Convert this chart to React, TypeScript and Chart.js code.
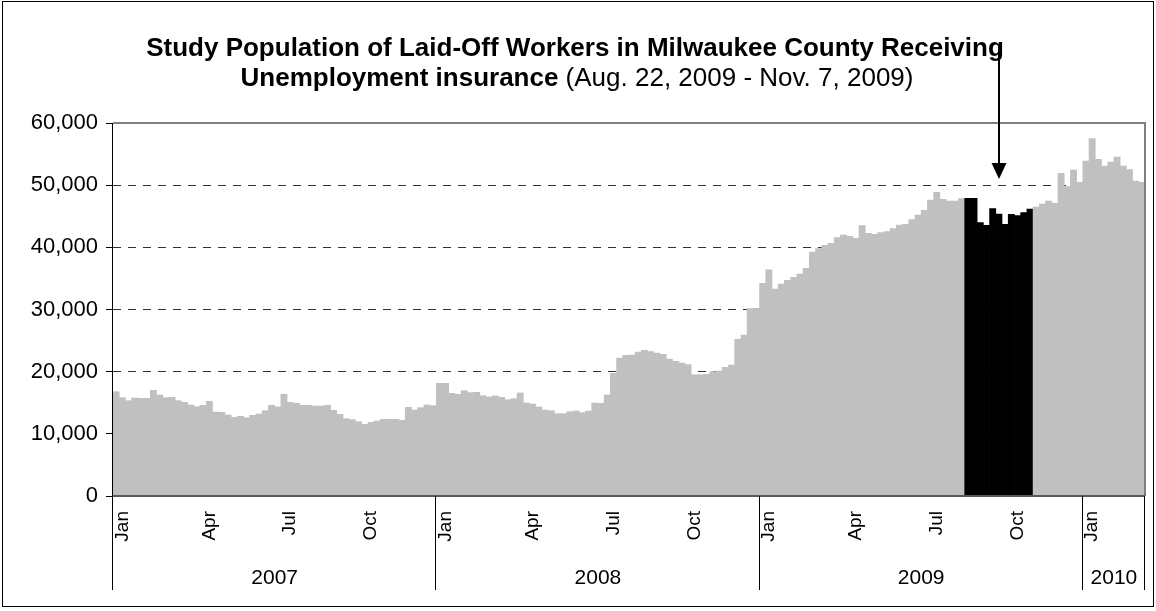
import { useEffect, useRef } from 'react';
import { Chart, registerables } from 'chart.js';

Chart.register(...registerables);

const FONT = '"Liberation Sans", Arial, Helvetica, sans-serif';

const yearLabels = ['2007', '2008', '2009', '2010'];

const values2007 = [
  16780, 15810, 15330, 15765, 15710, 15710, 17000, 16250, 15810, 15870,
  15330, 15070, 14640, 14370, 14590, 15230, 13510, 13460, 13030, 12660,
  12820, 12600, 12980, 13190, 13720, 14590, 14320, 16360, 15070, 14910,
  14590, 14590, 14480, 14480, 14590, 13780, 13140, 12440, 12280, 11950,
  11530, 11850, 12060, 12330, 12330, 12330, 12170, 14260, 13830, 14210,
  14640, 14530,
];

const values2008 = [
  18130, 18130, 16520, 16360, 16940, 16620, 16680, 16140, 15930, 16090,
  15870, 15490, 15650, 16570, 14960, 14800, 14320, 13830, 13720, 13240,
  13240, 13560, 13670, 13400, 13670, 14960, 14910, 16250, 19740, 22200,
  22630, 22680, 23160, 23430, 23220, 23000, 22790, 22040, 21660, 21390,
  21120, 19510, 19510, 19570, 20000, 20110, 20700, 21070, 25200, 25900,
  30130, 30190,
];

const values2009 = [
  34210, 36400, 33300, 34100, 34700, 35180, 35680, 36630, 39250, 39790,
  40320, 40640, 41550, 41980, 41770, 41450, 43480, 42250, 42090, 42360,
  42520, 43000, 43590, 43700, 44450, 45200, 45950, 47610, 48850, 47720,
  47450, 47450, 47830, 47880, 47880, 43970, 43540, 46220, 45360, 43700,
  45310, 45090, 45580, 46170, 46490, 46970, 47450, 47080, 51910, 49760,
  52440, 50460,
];

const values2010 = [53890, 57480, 54160, 53080, 53730, 54530, 53080, 52490, 50670, 50460];

const valuesByYear = [values2007, values2008, values2009, values2010];

// study period (Aug. 22 - Nov. 7, 2009), as 0-based week positions in the full series
const highlightFirst = 137;
const highlightLast = 147;

const monthNames = ['Jan', 'Apr', 'Jul', 'Oct'];
const monthWeekInYear = [1, 15, 28, 41];

const yTickValues = [0, 10000, 20000, 30000, 40000, 50000, 60000];

const titleLine1 = 'Study Population of Laid-Off Workers in Milwaukee County Receiving';
const titleLine2Bold = 'Unemployment insurance';
const titleLine2Normal = ' (Aug. 22, 2009 - Nov. 7, 2009)';

const arrowWeek = 142;
const arrowTipValue = 51000;

const weekLabels: string[] = [];
const weekYear: number[] = [];
const weekInYear: number[] = [];
const seriesValues: number[] = [];
valuesByYear.forEach((arr, yi) => {
  arr.forEach((v, wi) => {
    weekLabels.push(`${yearLabels[yi]} week ${wi + 1}`);
    weekYear.push(yi);
    weekInYear.push(wi);
    seriesValues.push(v);
  });
});

const barColors = seriesValues.map((_, i) =>
  i >= highlightFirst && i <= highlightLast ? '#000000' : '#C0C0C0'
);

const TITLE_SIZE = 26;

const decorPlugin = {
  id: 'decor',
  afterDraw(chart: any) {
    const { ctx, chartArea: a, scales } = chart;
    const xs = scales.x;
    const ys = scales.y;
    const half = (xs.getPixelForValue(1) - xs.getPixelForValue(0)) / 2;
    ctx.save();

    // plot frame (top / right)
    ctx.strokeStyle = '#808080';
    ctx.lineWidth = 2;
    ctx.beginPath();
    ctx.moveTo(a.left, a.top);
    ctx.lineTo(a.right, a.top);
    ctx.lineTo(a.right, a.bottom);
    ctx.stroke();

    // x axis line
    ctx.strokeStyle = '#5a5a5a';
    ctx.lineWidth = 2;
    ctx.beginPath();
    ctx.moveTo(a.left, a.bottom);
    ctx.lineTo(a.right, a.bottom);
    ctx.stroke();

    // y axis line
    ctx.strokeStyle = '#000';
    ctx.lineWidth = 1;
    ctx.beginPath();
    ctx.moveTo(a.left - 0.5, a.top);
    ctx.lineTo(a.left - 0.5, a.bottom + 1);
    ctx.stroke();

    // year separators and labels
    const starts: number[] = [];
    let idx = 0;
    valuesByYear.forEach((arr) => {
      starts.push(idx);
      idx += arr.length;
    });
    const sepBottom = 590;
    ctx.strokeStyle = '#000';
    ctx.lineWidth = 1;
    const edges = starts.map((s) => xs.getPixelForValue(s) - half);
    edges.push(xs.getPixelForValue(idx - 1) + half);
    edges.forEach((ex: number) => {
      const px = Math.round(ex) - 0.5;
      ctx.beginPath();
      ctx.moveTo(px, a.bottom);
      ctx.lineTo(px, sepBottom);
      ctx.stroke();
    });
    ctx.fillStyle = '#000';
    ctx.font = `21px ${FONT}`;
    ctx.textAlign = 'center';
    ctx.textBaseline = 'middle';
    yearLabels.forEach((yl, i) => {
      ctx.fillText(yl, (edges[i] + edges[i + 1]) / 2, 578);
    });

    // title
    ctx.textBaseline = 'alphabetic';
    ctx.font = `bold ${TITLE_SIZE}px ${FONT}`;
    ctx.textAlign = 'center';
    ctx.fillText(titleLine1, 575, 56);
    ctx.textAlign = 'left';
    const wb = ctx.measureText(titleLine2Bold).width;
    ctx.font = `${TITLE_SIZE}px ${FONT}`;
    const wn = ctx.measureText(titleLine2Normal).width;
    const startX = 577 - (wb + wn) / 2;
    ctx.font = `bold ${TITLE_SIZE}px ${FONT}`;
    ctx.fillText(titleLine2Bold, startX, 86);
    ctx.font = `${TITLE_SIZE}px ${FONT}`;
    ctx.fillText(titleLine2Normal, startX + wb, 86);

    // arrow
    const ax = Math.round(xs.getPixelForValue(arrowWeek));
    const tipY = ys.getPixelForValue(arrowTipValue);
    ctx.strokeStyle = '#000';
    ctx.lineWidth = 2;
    ctx.beginPath();
    ctx.moveTo(ax, 47);
    ctx.lineTo(ax, tipY - 14);
    ctx.stroke();
    ctx.beginPath();
    ctx.moveTo(ax - 7.5, tipY - 16);
    ctx.lineTo(ax + 7.5, tipY - 16);
    ctx.lineTo(ax, tipY);
    ctx.closePath();
    ctx.fill();

    // outer border
    ctx.strokeStyle = '#000';
    ctx.lineWidth = 1;
    ctx.strokeRect(2.5, 1.5, 1151, 605);

    ctx.restore();
  },
};

export default function App() {
  const ref = useRef<HTMLCanvasElement | null>(null);

  useEffect(() => {
    if (!ref.current) return;
    const chart = new Chart(ref.current, {
      type: 'bar',
      data: {
        labels: weekLabels,
        datasets: [
          {
            data: seriesValues,
            backgroundColor: barColors,
            borderWidth: 0,
            barPercentage: 1,
            categoryPercentage: 1,
          },
        ],
      },
      options: {
        responsive: false,
        animation: false,
        devicePixelRatio: 1,
        layout: { padding: { top: 123, right: 11, left: 0, bottom: 0 } },
        plugins: { legend: { display: false }, tooltip: { enabled: false }, title: { display: false } },
        scales: {
          x: {
            type: 'category',
            grid: { display: false, drawTicks: false },
            border: { display: false },
            ticks: {
              autoSkip: false,
              minRotation: 90,
              maxRotation: 90,
              padding: 15,
              color: '#000',
              font: { family: FONT, size: 19 },
              callback: (_v: any, i: number) => {
                const k = monthWeekInYear.indexOf(weekInYear[i]);
                return k >= 0 ? monthNames[k] : null;
              },
            },
            afterFit: (s: any) => {
              s.height = 115;
            },
          },
          y: {
            min: 0,
            max: 60000,
            afterBuildTicks: (s: any) => {
              s.ticks = yTickValues.map((v) => ({ value: v }));
            },
            ticks: {
              color: '#000',
              padding: 8,
              font: { family: FONT, size: 22 },
              callback: (v: any) => Number(v).toLocaleString('en-US'),
            },
            grid: {
              color: (c: any) =>
                c.tick && (c.tick.value === 0 || c.tick.value === 60000) ? 'rgba(0,0,0,0)' : '#333333',
              tickColor: '#000',
              tickLength: 7,
              lineWidth: 1,
            },
            border: { display: false, dash: [8, 7] },
            afterFit: (s: any) => {
              s.width = 113;
            },
          },
        },
      },
      plugins: [decorPlugin],
    });
    return () => chart.destroy();
  }, []);

  return (
    <div style={{ position: 'absolute', left: 0, top: 0, width: 1156, height: 611, background: '#fff' }}>
      <canvas ref={ref} width={1156} height={611} style={{ display: 'block' }} />
    </div>
  );
}
